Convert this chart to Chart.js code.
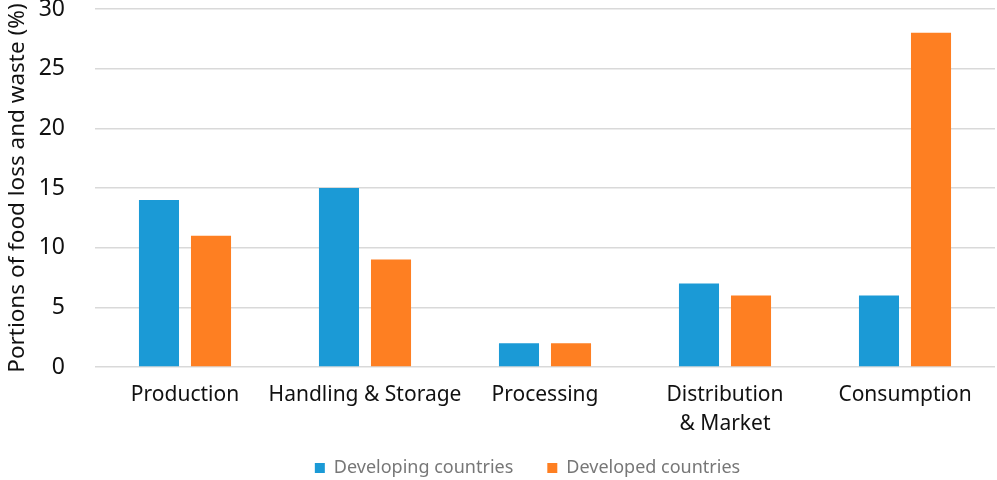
<!DOCTYPE html>
<html>
<head>
<meta charset="utf-8">
<script src="https://cdn.jsdelivr.net/npm/chart.js@4/dist/chart.umd.min.js"></script>
<style>
  html, body { margin: 0; padding: 0; background: #fff; }
  #wrap { width: 997px; height: 480px; position: relative; }
</style>
</head>
<body>
<div id="wrap"><canvas id="chart"></canvas></div>
<script>
const stages = ['Production', 'Handling & Storage', 'Processing', ['Distribution', '& Market'], 'Consumption'];
const developing = [14, 15, 2, 7, 6];
const developed = [11, 9, 2, 6, 28];
const seriesNames = ['Developing countries', 'Developed countries'];
const yMax = 30;
const yStep = 5;

const FONT = '"Noto Sans", "Liberation Sans", sans-serif';

// move the legend a bit right of centre and tuck it up under the axis labels
const legendShift = {
  id: 'legendShift',
  afterLayout(chart) {
    const lg = chart.legend;
    lg.left += 28;
    lg.right += 28;
    lg.top -= 12;
    lg.bottom -= 12;
  },
};

new Chart(document.getElementById('chart').getContext('2d'), {
  type: 'bar',
  data: {
    labels: stages,
    datasets: [
      {
        label: seriesNames[0],
        data: developing,
        backgroundColor: '#1b9ad6',
        categoryPercentage: 0.578,
        barPercentage: 0.77,
      },
      {
        label: seriesNames[1],
        data: developed,
        backgroundColor: '#fe7f22',
        categoryPercentage: 0.578,
        barPercentage: 0.77,
      },
    ],
  },
  plugins: [legendShift],
  options: {
    responsive: true,
    maintainAspectRatio: false,
    animation: false,
    layout: { padding: { left: 4, right: 2, top: 9, bottom: -19 } },
    plugins: {
      tooltip: { enabled: false },
      legend: {
        position: 'bottom',
        labels: {
          boxWidth: 10,
          boxHeight: 10,
          padding: 34,
          color: '#777',
          font: { family: FONT, size: 18 },
        },
      },
    },
    scales: {
      x: {
        grid: { display: false },
        border: { display: false },
        ticks: {
          color: '#111',
          font: { family: FONT, size: 21, lineHeight: 1.35 },
          maxRotation: 0,
          autoSkip: false,
          padding: 6,
        },
        afterFit: (scale) => { scale.height = 70; },
      },
      y: {
        min: 0,
        max: yMax,
        ticks: { stepSize: yStep, color: '#111', font: { family: FONT, size: 23 }, padding: 30 },
        grid: { color: '#d9d9d9', lineWidth: 1.5, drawTicks: false },
        border: { display: false },
        title: {
          display: true,
          text: 'Portions of food loss and waste (%)',
          color: '#111',
          font: { family: FONT, size: 22.5 },
          padding: { top: 0, bottom: 0 },
        },
        afterFit: (scale) => {
          scale.width = 91;
          scale.paddingTop = 0;
          scale.paddingBottom = 0;
        },
      },
    },
  },
});
</script>
</body>
</html>
